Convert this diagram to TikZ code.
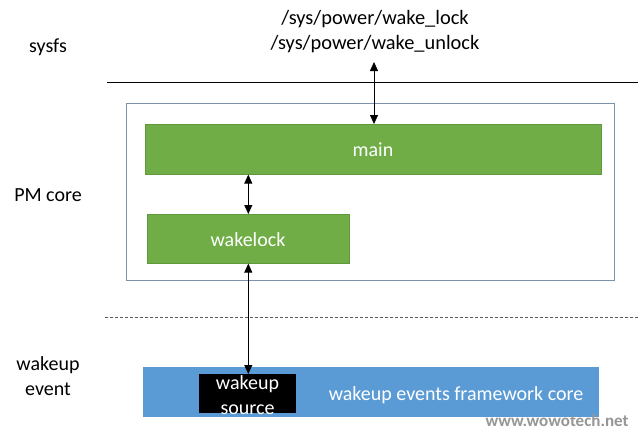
\documentclass[tikz,border=0pt]{standalone}
\usepackage{fontspec}
\setmainfont{Carlito}
\usetikzlibrary{arrows.meta}
\definecolor{pmgreen}{HTML}{70AD47}
\definecolor{pmgreenedge}{HTML}{5E9A3C}
\definecolor{evblue}{HTML}{5B9BD5}
\definecolor{frameblue}{RGB}{125,145,175}
\definecolor{sepgray}{RGB}{90,90,90}
\definecolor{wmgray}{RGB}{150,150,150}
\begin{document}
\begin{tikzpicture}[x=1pt,y=-1pt,
  font=\fontsize{20}{25}\selectfont,
  greenbox/.style={draw=pmgreenedge, line width=0.6pt, fill=pmgreen, text=white, inner sep=0pt, anchor=north west},
  bluebox/.style={fill=evblue, inner sep=0pt, anchor=north west},
  blackbox/.style={fill=black, inner sep=0pt, anchor=north west},
  framebox/.style={draw=frameblue, line width=0.7pt, inner sep=0pt, anchor=north west},
  lbl/.style={inner sep=0pt, align=center},
  biarrow/.style={{Triangle[length=9pt,width=8pt]}-{Triangle[length=9pt,width=8pt]}, line width=0.8pt},
  solidsep/.style={line width=0.8pt, black},
  dashsep/.style={line width=0.8pt, sepgray, dash pattern=on 3pt off 2pt}]
\useasboundingbox (0,0) rectangle (640,431);
\fill[white] (0,0) rectangle (640,431);

% left labels
\node[lbl] (sysfs) at (48,47) {sysfs};
\node[lbl] (pmcore) at (48,195) {PM core};
\node[lbl] (wevent) at (48,376) {wakeup\\event};

% sysfs paths
\node[lbl, font=\fontsize{20.4}{25}\selectfont] (paths) at (375,32) {/sys/power/wake\_lock\\/sys/power/wake\_unlock};

% separators
\coordinate (s1a) at (107,82);
\coordinate (s1b) at (638,82);
\draw[solidsep] (s1a) -- (s1b);
\coordinate (s2a) at (105,317);
\coordinate (s2b) at (638,317);
\draw[dashsep] (s2a) -- (s2b);

% PM core frame
\node[framebox, minimum width=488pt, minimum height=177pt] (frame) at (126,103) {};

% main and wakelock
\node[greenbox, minimum width=456pt, minimum height=50pt] (main) at (145,124) {};
\node[text=white, inner sep=0pt] (maintext) at (373,150) {main};
\node[greenbox, minimum width=202pt, minimum height=49pt] (wl) at (147,214) {};
\node[text=white, inner sep=0pt] (wltext) at (248,240) {wakelock};

% wakeup events framework
\node[bluebox, minimum width=456pt, minimum height=50pt] (core) at (143,367) {};
\node[text=white, inner sep=0pt] (coretext) at (456,395) {wakeup events framework core};
\node[blackbox, minimum width=97pt, minimum height=39pt] (ws) at (199,374) {};
\node[text=white, lbl] (wstext) at (247.5,395) {wakeup\\source};

% watermark
\node[inner sep=0pt, text=wmgray, draw=none, font=\fontsize{17}{17}\selectfont\bfseries] (wm) at (557,421) {www.wowotech.net};

% arrows
\coordinate (ptop) at (374,62);
\draw[biarrow] (ptop) -- (ptop |- main.north);
\draw[biarrow] (wl.north) -- (wl.north |- main.south);
\draw[biarrow] (wl.south) -- (wl.south |- ws.north);
\end{tikzpicture}
\end{document}
